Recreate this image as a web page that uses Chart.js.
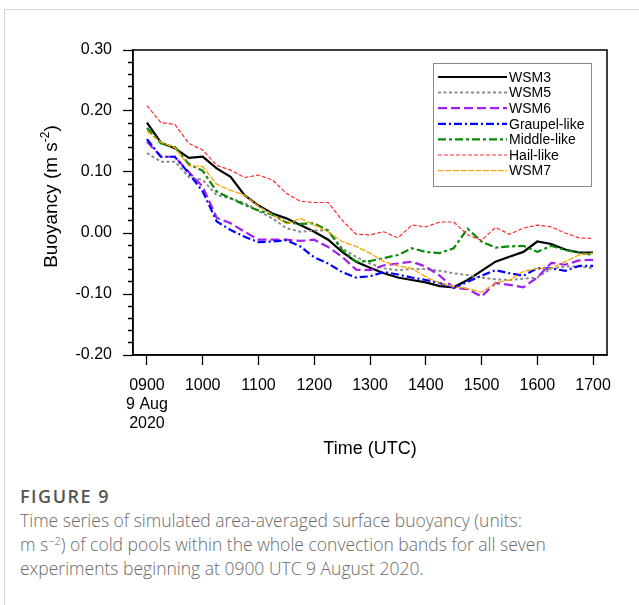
<!DOCTYPE html>
<html>
<head>
<meta charset="utf-8">
<script src="https://cdn.jsdelivr.net/npm/chart.js@4.4.1/dist/chart.umd.min.js"></script>
<style>
  html, body { margin: 0; padding: 0; background: #fff; }
  body { width: 639px; height: 605px; position: relative; overflow: hidden; }
  .card { position: absolute; left: 4px; top: 9px; right: -5px; bottom: -5px;
          border-left: 1px solid #d6d6d6; border-top: 1px solid #d6d6d6; }
  #wrap { position: absolute; left: 0; top: 0; width: 639px; height: 470px; }
  .cap { position: absolute; left: 20px; font-family: "Open Sans", sans-serif; white-space: nowrap; }
  .fig { top: 484px; font-size: 18px; font-weight: 600; color: #555; letter-spacing: 1.5px; }
  .txt { top: 508px; font-size: 17.5px; font-weight: 300; color: #6a6a6a; line-height: 24px; }
  .txt sup { font-size: 11px; vertical-align: 6px; line-height: 0; }
</style>
</head>
<body>
<div class="card"></div>
<div id="wrap"><canvas id="chart" width="639" height="470"></canvas></div>
<div class="cap fig">FIGURE 9</div>
<div class="cap txt">Time series of simulated area-averaged surface buoyancy (units:<br>m s<sup>−2</sup>) of cold pools within the whole convection bands for all seven<br>experiments beginning at 0900 UTC 9 August 2020.</div>
<script>
// time in hours UTC, every 15 minutes
const hours = [9.00, 9.25, 9.50, 9.75, 10.00, 10.25, 10.50, 10.75, 11.00, 11.25, 11.50,
  11.75, 12.00, 12.25, 12.50, 12.75, 13.00, 13.25, 13.50, 13.75, 14.00, 14.25, 14.50,
  14.75, 15.00, 15.25, 15.50, 15.75, 16.00, 16.25, 16.50, 16.75, 17.00];

const wsm3 = [0.181, 0.148, 0.139, 0.123, 0.125, 0.106, 0.092, 0.062, 0.045, 0.032, 0.024,
  0.013, 0.002, -0.011, -0.031, -0.047, -0.057, -0.066, -0.073, -0.077, -0.081, -0.087, -0.089,
  -0.077, -0.062, -0.047, -0.039, -0.031, -0.014, -0.018, -0.027, -0.032, -0.032];
const wsm5 = [0.131, 0.117, 0.117, 0.092, 0.087, 0.062, 0.057, 0.049, 0.036, 0.024, 0.008,
  0.002, 0.004, 0.004, -0.025, -0.039, -0.050, -0.058, -0.061, -0.059, -0.059, -0.062, -0.066,
  -0.069, -0.073, -0.076, -0.077, -0.075, -0.073, -0.058, -0.055, -0.055, -0.058];
const wsm6 = [0.150, 0.125, 0.125, 0.100, 0.076, 0.025, 0.016, 0.002, -0.011, -0.011, -0.011,
  -0.013, -0.011, -0.023, -0.039, -0.060, -0.061, -0.053, -0.050, -0.047, -0.055, -0.070, -0.090,
  -0.092, -0.104, -0.082, -0.085, -0.089, -0.073, -0.049, -0.052, -0.045, -0.044];
const graupel = [0.154, 0.125, 0.125, 0.098, 0.068, 0.019, 0.005, -0.006, -0.015, -0.014, -0.012,
  -0.022, -0.040, -0.050, -0.064, -0.073, -0.071, -0.064, -0.068, -0.073, -0.077, -0.082, -0.090,
  -0.080, -0.070, -0.061, -0.066, -0.070, -0.058, -0.058, -0.062, -0.054, -0.054];
const middle = [0.172, 0.147, 0.141, 0.113, 0.102, 0.068, 0.057, 0.046, 0.037, 0.030, 0.017,
  0.015, 0.016, 0.004, -0.028, -0.047, -0.046, -0.041, -0.036, -0.025, -0.031, -0.033, -0.025,
  0.007, -0.014, -0.024, -0.022, -0.021, -0.031, -0.021, -0.028, -0.032, -0.036];
const hail = [0.209, 0.181, 0.178, 0.147, 0.136, 0.111, 0.103, 0.091, 0.095, 0.087, 0.065,
  0.052, 0.050, 0.050, 0.021, -0.002, -0.003, 0.002, -0.008, 0.013, 0.010, 0.018, 0.018,
  -0.003, -0.012, 0.009, -0.002, 0.008, 0.013, 0.010, 0.000, -0.008, -0.009];
const wsm7 = [0.167, 0.149, 0.140, 0.110, 0.109, 0.080, 0.070, 0.062, 0.044, 0.030, 0.015,
  0.024, 0.013, 0.002, -0.014, -0.022, -0.033, -0.047, -0.054, -0.058, -0.072, -0.082, -0.088,
  -0.091, -0.097, -0.082, -0.077, -0.063, -0.058, -0.058, -0.047, -0.036, -0.033];

const seriesNames = ['WSM3', 'WSM5', 'WSM6', 'Graupel-like', 'Middle-like', 'Hail-like', 'WSM7'];
const seriesValues = [wsm3, wsm5, wsm6, graupel, middle, hail, wsm7];

const xTickHours = [9, 10, 11, 12, 13, 14, 15, 16, 17];
const xTickLabels = [['0900', '9 Aug', '2020'], '1000', '1100', '1200', '1300', '1400', '1500', '1600', '1700'];
const yTickValues = [-0.2, -0.1, 0, 0.1, 0.2, 0.3];
const yTickLabels = ['-0.20', '-0.10', '0.00', '0.10', '0.20', '0.30'];

// line styles, same order as seriesNames
const lineStyles = [
  { color: '#000000', width: 2.2, dash: [] },
  { color: '#8c8c8c', width: 2, dash: [3, 2.5] },
  { color: '#a020f0', width: 2.2, dash: [9, 4] },
  { color: '#0000ff', width: 2.2, dash: [8, 3, 2, 3] },
  { color: '#0a8a0a', width: 2.2, dash: [8, 3, 3, 3] },
  { color: '#ff2a2a', width: 1.2, dash: [4, 2] },
  { color: '#ffa500', width: 1.3, dash: [6, 1.5] }
];

const FONT = '"Liberation Sans", Arial, Helvetica, sans-serif';

const datasets = seriesNames.map((name, i) => ({
  label: name,
  data: seriesValues[i].map((v, k) => ({ x: hours[k], y: v })),
  borderColor: lineStyles[i].color,
  borderWidth: lineStyles[i].width,
  borderDash: lineStyles[i].dash,
  pointRadius: 0,
  tension: 0,
  fill: false,
  order: seriesNames.length - 1 - i
}));

function isMajor(v) {
  return Math.abs(v * 10 - Math.round(v * 10)) < 1e-6;
}

// frame round the plot plus the boxed legend inside it
const framePlugin = {
  id: 'frame',
  afterDraw(chart) {
    const { ctx, chartArea: a } = chart;
    ctx.save();
    ctx.strokeStyle = '#000';
    ctx.lineWidth = 1.5;
    ctx.strokeRect(a.left, a.top, a.right - a.left, a.bottom - a.top);

    // legend box
    const bx = a.right - 174, by = a.top + 13, bw = 158, bh = 123;
    ctx.fillStyle = '#fff';
    ctx.fillRect(bx, by, bw, bh);
    ctx.strokeStyle = '#8a8a8a';
    ctx.lineWidth = 1;
    ctx.strokeRect(bx + 0.5, by + 0.5, bw, bh);
    ctx.font = '14px ' + FONT;
    ctx.textBaseline = 'middle';
    ctx.textAlign = 'left';
    chart.data.datasets.forEach((ds, i) => {
      const y = by + 14 + i * 15.6;
      ctx.beginPath();
      ctx.strokeStyle = ds.borderColor;
      ctx.lineWidth = ds.borderWidth;
      ctx.setLineDash(ds.borderDash);
      ctx.moveTo(bx + 5, y);
      ctx.lineTo(bx + 74, y);
      ctx.stroke();
      ctx.setLineDash([]);
      ctx.fillStyle = '#000';
      ctx.fillText(ds.label, bx + 76, y + 1);
    });

    // y axis title with superscript
    const cy = (a.top + a.bottom) / 2 - 6;
    ctx.translate(57, cy);
    ctx.rotate(-Math.PI / 2);
    const big = '19px ' + FONT, small = '12px ' + FONT;
    ctx.font = big;
    const w1 = ctx.measureText('Buoyancy (m s').width;
    const w3 = ctx.measureText(')').width;
    ctx.font = small;
    const w2 = ctx.measureText('-2').width;
    let x = -(w1 + w2 + w3) / 2;
    ctx.textBaseline = 'alphabetic';
    ctx.fillStyle = '#000';
    ctx.font = big;
    ctx.fillText('Buoyancy (m s', x, 0);
    x += w1;
    ctx.font = small;
    ctx.fillText('-2', x, -8);
    x += w2;
    ctx.font = big;
    ctx.fillText(')', x, 0);
    ctx.restore();
  }
};

new Chart(document.getElementById('chart'), {
  type: 'line',
  data: { datasets },
  options: {
    responsive: false,
    devicePixelRatio: 1,
    animation: false,
    layout: { padding: { top: 50, right: 32, left: 0, bottom: 0 } },
    plugins: { legend: { display: false }, tooltip: { enabled: false } },
    scales: {
      x: {
        type: 'linear',
        min: 8.75,
        max: 17.25,
        afterBuildTicks: s => { s.ticks = xTickHours.map(v => ({ value: v })); },
        afterFit: s => { s.height = 115; s.paddingLeft = 0; s.paddingRight = 0; },
        border: { display: true, color: '#000', width: 1.5 },
        grid: { drawOnChartArea: false, tickLength: 10, tickWidth: 1.3, tickColor: '#000' },
        ticks: {
          autoSkip: false, maxRotation: 0, padding: 11, color: '#000',
          font: { family: FONT, size: 16 },
          callback: (v, i) => xTickLabels[i]
        },
        title: {
          display: true, text: 'Time (UTC)', color: '#000',
          font: { family: FONT, size: 18 }, padding: { top: 0, bottom: 10 }
        }
      },
      y: {
        min: -0.2,
        max: 0.3,
        afterBuildTicks: s => {
          const t = [];
          for (let k = -10; k <= 15; k++) t.push({ value: k / 50 });
          s.ticks = t;
        },
        afterFit: s => { s.width = 133; s.paddingTop = 0; s.paddingBottom = 0; },
        border: { display: true, color: '#000', width: 1.5 },
        grid: {
          drawOnChartArea: false, tickLength: 10, tickWidth: 1.3, tickColor: '#000',
          tickBorderDash: c => (c.tick && !isMajor(c.tick.value)) ? [0, 5, 5, 20] : []
        },
        ticks: {
          autoSkip: false, padding: 11, color: '#000',
          font: { family: FONT, size: 16 },
          callback: v => {
            const i = yTickValues.findIndex(t => Math.abs(t - v) < 1e-9);
            return i >= 0 ? yTickLabels[i] : '';
          }
        }
      }
    }
  },
  plugins: [framePlugin]
});
</script>
</body>
</html>
